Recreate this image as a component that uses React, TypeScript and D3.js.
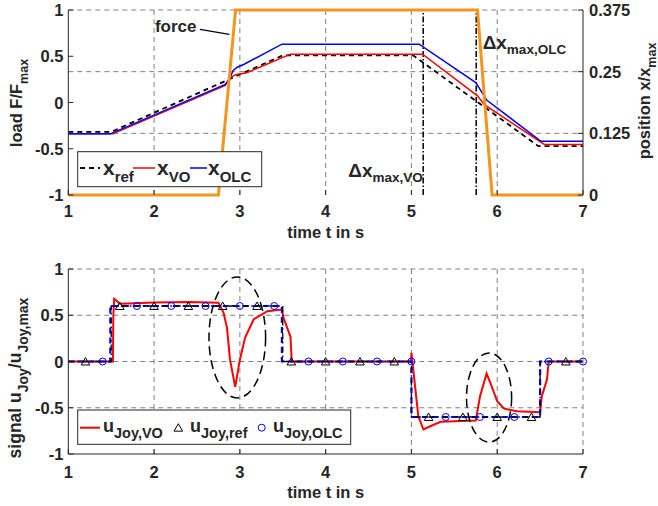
import React from "react";
import * as d3 from "d3";

const W = 658;
const H = 506;

// ---------- top panel data ----------
const xTickVals = [1, 2, 3, 4, 5, 6, 7];
const leftTicksTop = [-1, -0.5, 0, 0.5, 1];
const leftTickLabelsTop = ["-1", "-0.5", "0", "0.5", "1"];
const rightTicksTop = [0, 0.125, 0.25, 0.375];
const rightTickLabelsTop = ["0", "0.125", "0.25", "0.375"];

const forceT = [1, 2.75, 2.95, 5.77, 5.94, 7];
const forceV = [-1, -1, 1, 1, -1, -1];

const xRefT = [1, 1.5, 3.5, 5.02, 6.48, 7];
const xRefV = [0.128, 0.128, 0.283, 0.283, 0.099, 0.099];

const xVOT = [1, 1.52, 2.83, 2.89, 2.95, 3.08, 3.59, 5.13, 5.77, 5.85, 6.55, 7];
const xVOV = [0.124, 0.124, 0.222, 0.238, 0.244, 0.248, 0.2855, 0.2855, 0.201, 0.183, 0.1024, 0.1024];

const xOLCT = [1, 1.49, 2.83, 2.88, 2.92, 2.97, 3.05, 3.49, 5.09, 5.75, 5.88, 6.51, 7];
const xOLCV = [0.124, 0.124, 0.2243, 0.236, 0.252, 0.259, 0.265, 0.3057, 0.3057, 0.228, 0.192, 0.109, 0.109];

const dxMarkT = [5.137, 5.755];

// ---------- bottom panel data ----------
const leftTicksBot = [-1, -0.5, 0, 0.5, 1];
const leftTickLabelsBot = ["-1", "-0.5", "0", "0.5", "1"];

const uRefT = [1, 1.5, 1.5, 3.5, 3.5, 5, 5, 6.5, 6.5, 7];
const uRefV = [0, 0, 0.6, 0.6, 0, 0, -0.6, -0.6, 0, 0];
const uRefMarkT = [1.2, 1.6, 2.0, 2.4, 2.8, 3.2, 3.6, 4.0, 4.4, 4.8, 5.2, 5.6, 6.0, 6.4, 6.8];
const uRefMarkV = [0, 0.6, 0.6, 0.6, 0.6, 0.6, 0, 0, 0, 0, -0.6, -0.6, -0.6, -0.6, 0];

const uOLCT = [1, 1.49, 1.49, 3.49, 3.49, 5, 5, 6.5, 6.5, 7];
const uOLCV = [0, 0, 0.6, 0.6, 0, 0, -0.6, -0.6, 0, 0];
const uOLCMarkT = [1.4, 1.8, 2.2, 2.6, 3.0, 3.4, 3.8, 4.2, 4.6, 5.0, 5.4, 5.8, 6.2, 6.6, 7.0];
const uOLCMarkV = [0, 0.6, 0.6, 0.6, 0.6, 0.6, 0, 0, 0, 0, -0.6, -0.6, -0.6, 0, 0];

const uVOT = [1, 1.52, 1.525, 1.535, 1.56, 1.6, 1.7, 2.0, 2.4, 2.75, 2.81, 2.85, 2.885, 2.946, 3.0, 3.06, 3.16, 3.32, 3.49, 3.51, 3.59, 3.605, 4.995, 5.0, 5.08, 5.14, 5.22, 5.34, 5.75, 5.8, 5.876, 5.92, 6.0, 6.08, 6.23, 6.5, 6.52, 6.58, 6.6, 7];
const uVOV = [0, 0, 0.5, 0.678, 0.66, 0.624, 0.628, 0.638, 0.644, 0.635, 0.526, 0.364, 0.02, -0.274, 0.02, 0.256, 0.454, 0.544, 0.562, 0.47, 0.267, 0, 0, 0.094, -0.59, -0.735, -0.7, -0.652, -0.638, -0.375, -0.13, -0.23, -0.43, -0.51, -0.537, -0.548, -0.375, -0.195, 0, 0];

const ellipseT = [2.97, 5.905];
const ellipseV = [0.26, -0.39];
const ellipseRT = [0.33, 0.263];
const ellipseRV = [0.654, 0.483];

// ---------- layout ----------
const X0 = 68.3;
const X1 = 583;
const TOP_Y0 = 195;
const TOP_Y1 = 10;
const BOT_Y0 = 454;
const BOT_Y1 = 269;

const FONT = "'Liberation Sans', Arial, Helvetica, sans-serif";
const AX = "#262626";
const GRID = "#808080";
const ORANGE = "#f7941d";

type Part = [string, boolean];

function RichText(props: {
  x: number;
  y: number;
  parts: Part[];
  size: number;
  subSize: number;
  shift: number;
  anchor?: string;
  rotate?: number;
}) {
  const { x, y, parts, size, subSize, shift, anchor = "start", rotate = 0 } = props;
  let lowered = false;
  const spans = parts.map(([t, sub], i) => {
    let dy = 0;
    if (sub && !lowered) {
      dy = shift;
      lowered = true;
    } else if (!sub && lowered) {
      dy = -shift;
      lowered = false;
    }
    return (
      <tspan key={i} dy={dy} fontSize={sub ? subSize : size}>
        {t}
      </tspan>
    );
  });
  return (
    <text
      transform={`translate(${x},${y}) rotate(${rotate})`}
      textAnchor={anchor}
      fontFamily={FONT}
      fontWeight="bold"
      fill={AX}
      fontSize={size}
      style={{ whiteSpace: "pre" }}
    >
      {spans}
    </text>
  );
}

function zip(a: number[], b: number[]): [number, number][] {
  return a.map((v, i) => [v, b[i]]);
}

export default function App() {
  const x = d3.scaleLinear().domain([1, 7]).range([X0, X1]);
  const yL = d3.scaleLinear().domain([-1, 1]).range([TOP_Y0, TOP_Y1]);
  const yR = d3.scaleLinear().domain([0, 0.375]).range([TOP_Y0, TOP_Y1]);
  const yB = d3.scaleLinear().domain([-1, 1]).range([BOT_Y0, BOT_Y1]);

  const lineL = d3.line<[number, number]>().x((d) => x(d[0])).y((d) => yL(d[1]));
  const lineR = d3.line<[number, number]>().x((d) => x(d[0])).y((d) => yR(d[1]));
  const lineB = d3.line<[number, number]>().x((d) => x(d[0])).y((d) => yB(d[1]));
  const tri = d3.symbol(d3.symbolTriangle, 32)() as string;

  const gridDash = "5,4";

  return (
    <svg
      width={W}
      height={H}
      style={{ position: "absolute", left: 0, top: 0, background: "#fff" }}
    >
      <rect x={0} y={0} width={W} height={H} fill="#fff" />
      {/* ================= TOP PANEL ================= */}
      <g>
        {xTickVals.slice(1, 6).map((t) => (
          <line key={t} x1={x(t)} x2={x(t)} y1={TOP_Y0} y2={TOP_Y1} stroke={GRID} strokeDasharray={gridDash} />
        ))}
        {rightTicksTop.slice(1).map((v) => (
          <line key={v} x1={X0} x2={X1} y1={yR(v)} y2={yR(v)} stroke={GRID} strokeDasharray={gridDash} />
        ))}
        {dxMarkT.map((t) => (
          <line key={t} x1={x(t)} x2={x(t)} y1={TOP_Y0} y2={TOP_Y1} stroke="#000" strokeWidth={1.5} strokeDasharray="6,2,1.5,2" />
        ))}
        <path d={lineR(zip(xRefT, xRefV)) as string} fill="none" stroke="#000" strokeWidth={1.8} strokeDasharray="5,4" />
        <path d={lineR(zip(xVOT, xVOV)) as string} fill="none" stroke="#ff0000" strokeWidth={1.5} />
        <path d={lineR(zip(xOLCT, xOLCV)) as string} fill="none" stroke="#0000ff" strokeWidth={1.5} />
        <path d={lineL(zip(forceT, forceV)) as string} fill="none" stroke={ORANGE} strokeWidth={3} />
        <line x1={X0} x2={X0} y1={TOP_Y0} y2={TOP_Y1} stroke={AX} strokeWidth={1} />
        <line x1={X1} x2={X1} y1={TOP_Y0} y2={TOP_Y1} stroke={AX} strokeWidth={1} />
        {xTickVals.map((t) => (
          <line key={t} x1={x(t)} x2={x(t)} y1={TOP_Y0} y2={TOP_Y0 - 5} stroke={AX} />
        ))}
        {leftTicksTop.map((v) => (
          <line key={v} x1={X0} x2={X0 + 5} y1={yL(v)} y2={yL(v)} stroke={AX} />
        ))}
        {rightTicksTop.map((v) => (
          <line key={v} x1={X1} x2={X1 - 5} y1={yR(v)} y2={yR(v)} stroke={AX} />
        ))}
        {xTickVals.map((t) => (
          <text key={t} x={x(t)} y={217} textAnchor="middle" fontFamily={FONT} fontWeight="bold" fontSize={16.5} fill={AX}>
            {t}
          </text>
        ))}
        {leftTicksTop.map((v, i) => (
          <text key={v} x={63.5} y={yL(v) + 6} textAnchor="end" fontFamily={FONT} fontWeight="bold" fontSize={16.5} fill={AX}>
            {leftTickLabelsTop[i]}
          </text>
        ))}
        {rightTicksTop.map((v, i) => (
          <text key={v} x={589} y={yR(v) + 6} textAnchor="start" fontFamily={FONT} fontWeight="bold" fontSize={16.5} fill={AX}>
            {rightTickLabelsTop[i]}
          </text>
        ))}
        <RichText x={(X0 + X1) / 2} y={238} parts={[["time t in s", false]]} size={16.5} subSize={12} shift={5} anchor="middle" />
        <RichText x={22} y={103} parts={[["load F/F", false], ["max", true]]} size={16.5} subSize={12.5} shift={6} anchor="middle" rotate={-90} />
        <RichText x={650} y={101} parts={[["position x/x", false], ["max", true]]} size={16.5} subSize={12.5} shift={6} anchor="middle" rotate={-90} />
        <text x={x(2.01)} y={yL(0.765)} fontFamily={FONT} fontWeight="bold" fontSize={17} fill={AX}>
          force
        </text>
        <line x1={x(2.535)} y1={yL(0.791)} x2={x(2.877)} y2={yL(0.737)} stroke="#000" strokeWidth={1.2} />
        <RichText x={x(5.83)} y={yL(0.575)} parts={[["Δx", false], ["max,OLC", true]]} size={19} subSize={13.5} shift={5} />
        <RichText x={x(4.264)} y={yL(-0.802)} parts={[["Δx", false], ["max,VO", true]]} size={19} subSize={13.5} shift={5} />
        <rect x={77.7} y={151.7} width={184} height={35} fill="#fff" stroke={AX} strokeWidth={1} />
        <line x1={80} x2={100} y1={168} y2={168} stroke="#000" strokeWidth={1.8} strokeDasharray="5,4" />
        <RichText x={103} y={175} parts={[["x", false], ["ref", true]]} size={21} subSize={15} shift={6.5} />
        <line x1={133} x2={155} y1={168} y2={168} stroke="#ff0000" strokeWidth={1.5} />
        <RichText x={157} y={175} parts={[["x", false], ["VO", true]]} size={21} subSize={15} shift={6.5} />
        <line x1={190} x2={207} y1={168} y2={168} stroke="#0000ff" strokeWidth={1.5} />
        <RichText x={208} y={175} parts={[["x", false], ["OLC", true]]} size={21} subSize={15} shift={6.5} />
      </g>

      {/* ================= BOTTOM PANEL ================= */}
      <g>
        {xTickVals.slice(1).map((t) => (
          <line key={t} x1={x(t)} x2={x(t)} y1={BOT_Y0} y2={BOT_Y1} stroke={GRID} strokeDasharray={gridDash} />
        ))}
        {leftTicksBot.slice(1).map((v) => (
          <line key={v} x1={X0} x2={X1} y1={yB(v)} y2={yB(v)} stroke={GRID} strokeDasharray={gridDash} />
        ))}
        <path d={lineB(zip(uVOT, uVOV)) as string} fill="none" stroke="#ff0000" strokeWidth={2} />
        <path d={lineB(zip(uOLCT, uOLCV)) as string} fill="none" stroke="#0000ff" strokeWidth={2.2} strokeDasharray="6,4" />
        <path d={lineB(zip(uRefT, uRefV)) as string} fill="none" stroke="#000" strokeWidth={1.3} strokeDasharray="6,3,1.5,3" />
        {uRefMarkT.map((t, i) => (
          <path key={t} d={tri} transform={`translate(${x(t)},${yB(uRefMarkV[i]) + 1})`} fill="none" stroke="#000" strokeWidth={1} />
        ))}
        {uOLCMarkT.map((t, i) => (
          <circle key={t} cx={x(t)} cy={yB(uOLCMarkV[i])} r={3.5} fill="none" stroke="#0000ff" strokeWidth={1} />
        ))}
        {ellipseT.map((t, i) => (
          <ellipse
            key={t}
            cx={x(t)}
            cy={yB(ellipseV[i])}
            rx={x(t + ellipseRT[i]) - x(t)}
            ry={yB(ellipseV[i]) - yB(ellipseV[i] + ellipseRV[i])}
            fill="none"
            stroke="#000"
            strokeWidth={1.5}
            strokeDasharray="9,5"
          />
        ))}
        <line x1={X0} x2={X0} y1={BOT_Y0} y2={BOT_Y1} stroke={AX} strokeWidth={1} />
        <line x1={X0} x2={X1} y1={BOT_Y0} y2={BOT_Y0} stroke={AX} strokeWidth={1} />
        {xTickVals.map((t) => (
          <line key={t} x1={x(t)} x2={x(t)} y1={BOT_Y0} y2={BOT_Y0 - 5} stroke={AX} />
        ))}
        {leftTicksBot.map((v) => (
          <line key={v} x1={X0} x2={X0 + 5} y1={yB(v)} y2={yB(v)} stroke={AX} />
        ))}
        {xTickVals.map((t) => (
          <text key={t} x={x(t)} y={478} textAnchor="middle" fontFamily={FONT} fontWeight="bold" fontSize={16.5} fill={AX}>
            {t}
          </text>
        ))}
        {leftTicksBot.map((v, i) => (
          <text key={v} x={63.5} y={yB(v) + 6} textAnchor="end" fontFamily={FONT} fontWeight="bold" fontSize={16.5} fill={AX}>
            {leftTickLabelsBot[i]}
          </text>
        ))}
        <RichText x={(X0 + X1) / 2} y={498} parts={[["time t in s", false]]} size={16.5} subSize={12} shift={5} anchor="middle" />
        <RichText
          x={21}
          y={378}
          parts={[["signal u", false], ["Joy", true], ["/u", false], ["Joy,max", true]]}
          size={17.5}
          subSize={14}
          shift={7}
          anchor="middle"
          rotate={-90}
        />
        <rect x={77.7} y={410} width={273} height={34.3} fill="#fff" stroke={AX} strokeWidth={1} />
        <line x1={80} x2={100} y1={427.7} y2={427.7} stroke="#ff0000" strokeWidth={2} />
        <RichText x={103} y={431.7} parts={[["u", false], ["Joy,VO", true]]} size={18} subSize={14.5} shift={6.5} />
        <path d={tri} transform={`translate(178.3,${427.7 + 1})`} fill="none" stroke="#000" strokeWidth={1} />
        <RichText x={190} y={431.7} parts={[["u", false], ["Joy,ref", true]]} size={18} subSize={14.5} shift={6.5} />
        <circle cx={261.7} cy={427.7} r={3.5} fill="none" stroke="#0000ff" strokeWidth={1} />
        <RichText x={273} y={431.7} parts={[["u", false], ["Joy,OLC", true]]} size={18} subSize={14.5} shift={6.5} />
      </g>
    </svg>
  );
}
